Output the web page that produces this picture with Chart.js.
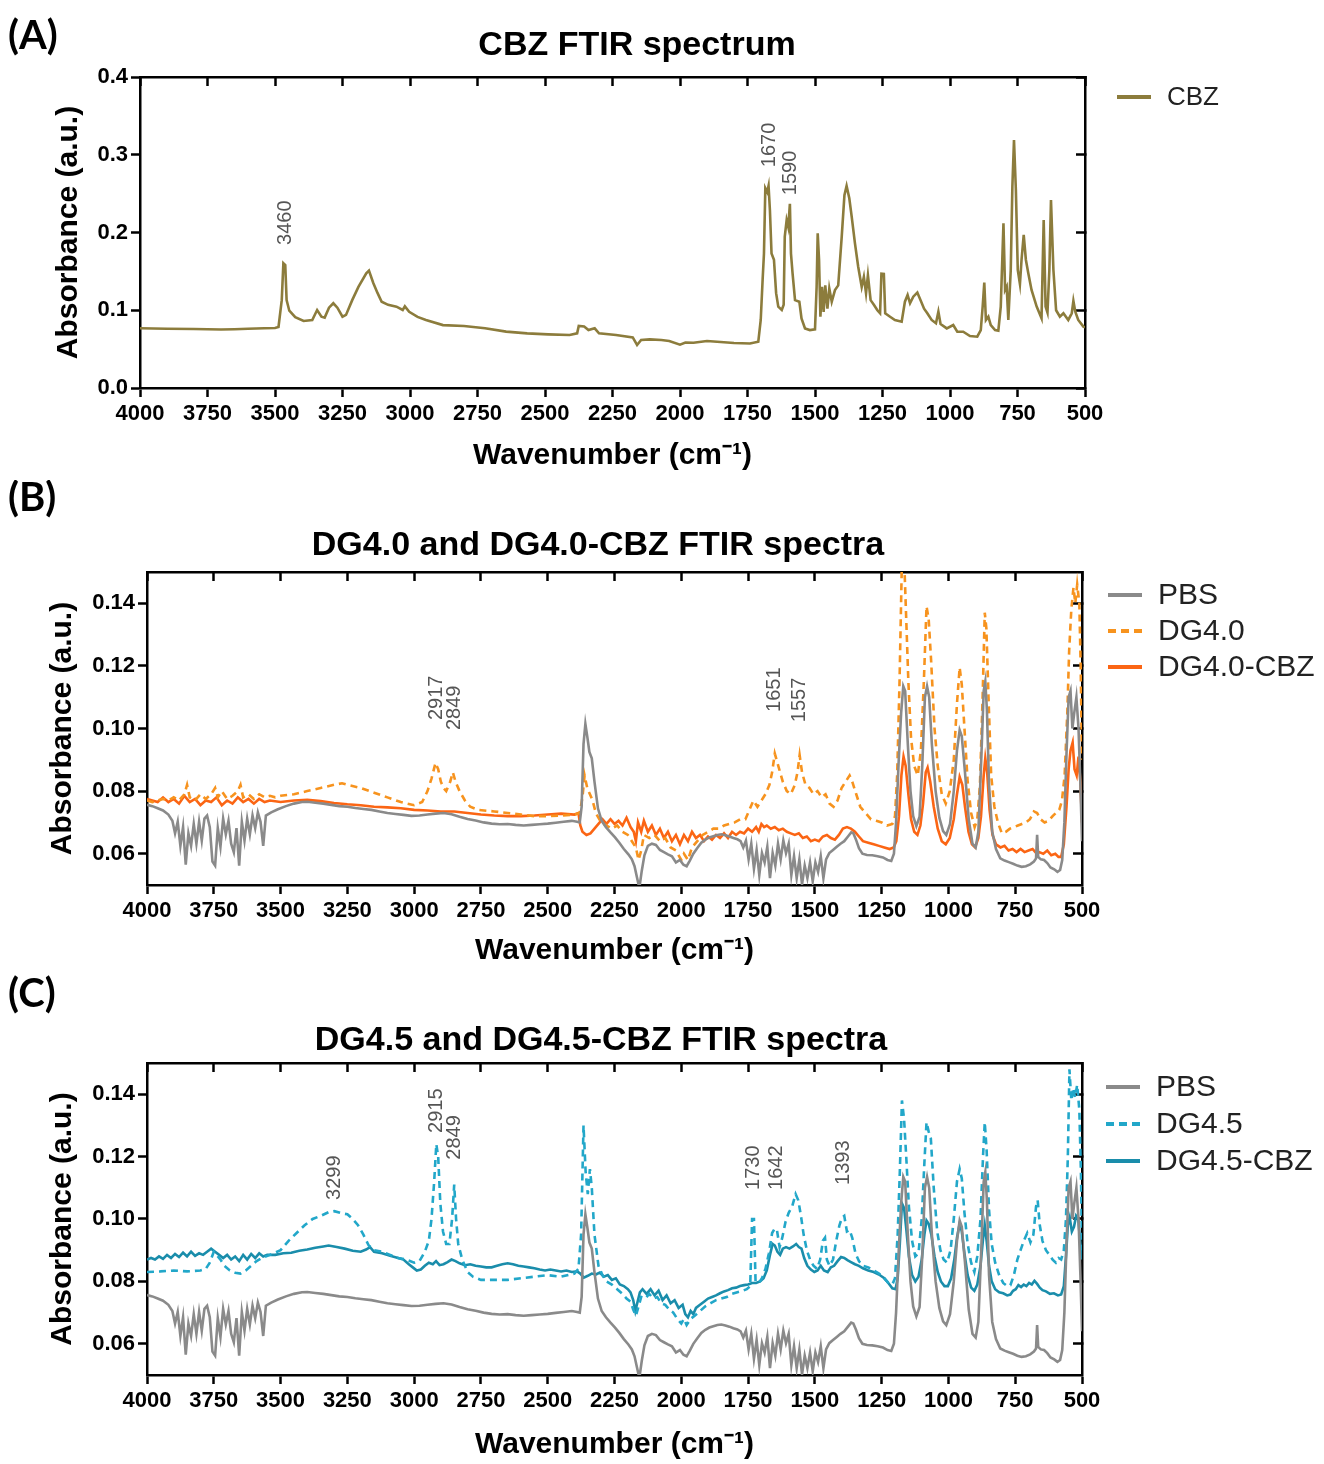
<!DOCTYPE html>
<html>
<head>
<meta charset="utf-8">
<title>FTIR spectra</title>
<script src="https://cdn.jsdelivr.net/npm/chart.js@4.4.1/dist/chart.umd.min.js"></script>
<style>
  body { margin: 0; background: #fff; }
  .panel { position: absolute; left: 0; width: 1324px; }
</style>
</head>
<body>
<div class="panel" style="top:0;height:480px"><canvas id="chartA"></canvas></div>
<div class="panel" style="top:480px;height:490px"><canvas id="chartB"></canvas></div>
<div class="panel" style="top:970px;height:494px"><canvas id="chartC"></canvas></div>
<script>
// axis ticks
const waveTicks = [4000, 3750, 3500, 3250, 3000, 2750, 2500, 2250, 2000, 1750, 1500, 1250, 1000, 750, 500];
const absTicksA = [0, 0.1, 0.2, 0.3, 0.4];
const absTicksBC = [0.06, 0.08, 0.10, 0.12, 0.14];

// peak labels (wavenumber, absorbance where the label starts)
const cbzPeaks = [3460, 1670, 1590];
const cbzPeakLevels = [0.184, 0.284, 0.248];
const dg40Peaks = [2917, 2849, 1651, 1557];
const dg40PeakLevels = [0.1027, 0.0995, 0.1053, 0.102];
const dg45Peaks = [3299, 2915, 2849, 1730, 1642, 1393];
const dg45PeakLevels = [0.1061, 0.1276, 0.119, 0.1093, 0.1093, 0.1109];

// spectra: [wavenumber, absorbance]
const cbzPoints = [
  [4000,0.0768],[3900,0.0762],[3800,0.0758],[3700,0.0752],[3650,0.0756],[3600,0.0762],[3540,0.0768],[3500,0.0772],
  [3487,0.0785],[3475,0.113],[3469,0.1604],[3462,0.158],[3457,0.113],[3447,0.0994],[3425,0.091],[3394,0.0862],
  [3362,0.0875],[3344,0.1003],[3328,0.0917],[3316,0.0905],[3300,0.1033],[3284,0.109],[3269,0.1033],[3250,0.0917],
  [3237,0.094],[3214,0.113],[3191,0.130],[3162,0.1475],[3152,0.151],[3136,0.135],[3120,0.122],[3105,0.111],
  [3081,0.107],[3050,0.1046],[3027,0.1003],[3019,0.105],[3003,0.098],[2972,0.0915],[2941,0.0875],[2878,0.0809],
  [2800,0.0797],[2722,0.0768],[2644,0.0725],[2566,0.0703],[2488,0.069],[2409,0.0682],[2381,0.0703],[2375,0.0797],
  [2355,0.079],[2339,0.0746],[2316,0.0768],[2300,0.0703],[2237,0.0682],[2175,0.0651],[2159,0.0553],[2144,0.0618],
  [2112,0.0626],[2069,0.0618],[2040,0.0605],[2000,0.0558],[1980,0.0585],[1950,0.0582],[1900,0.0605],[1850,0.0592],
  [1800,0.0578],[1741,0.0572],[1710,0.0596],[1701,0.0875],[1694,0.139],[1689,0.173],[1684,0.257],[1677,0.252],
  [1672,0.260],[1667,0.229],[1661,0.173],[1652,0.165],[1644,0.122],[1636,0.1047],[1623,0.1003],[1616,0.107],
  [1612,0.1947],[1605,0.216],[1599,0.207],[1593,0.237],[1589,0.173],[1583,0.147],[1574,0.113],[1558,0.111],
  [1550,0.0896],[1537,0.0767],[1519,0.0745],[1500,0.0754],[1494,0.130],[1490,0.199],[1485,0.165],[1480,0.0917],
  [1474,0.130],[1468,0.098],[1462,0.132],[1454,0.102],[1447,0.128],[1438,0.111],[1426,0.126],[1414,0.132],
  [1401,0.1947],[1391,0.248],[1383,0.260],[1373,0.244],[1364,0.220],[1352,0.186],[1340,0.156],[1327,0.130],
  [1319,0.143],[1311,0.122],[1304,0.145],[1294,0.113],[1282,0.107],[1269,0.100],[1259,0.0961],[1254,0.147],
  [1245,0.1466],[1240,0.0961],[1222,0.0917],[1204,0.0875],[1179,0.0853],[1167,0.111],[1157,0.1197],[1148,0.109],
  [1136,0.1175],[1121,0.1227],[1109,0.113],[1096,0.102],[1084,0.0961],[1068,0.0875],[1052,0.0832],[1043,0.0982],
  [1035,0.0824],[1012,0.0767],[988,0.081],[973,0.0724],[951,0.0724],[926,0.0668],[899,0.066],[886,0.0745],
  [879,0.1047],[873,0.1355],[867,0.0875],[858,0.0917],[849,0.081],[833,0.0745],[821,0.0737],[812,0.1047],
  [802,0.2118],[796,0.1261],[790,0.1304],[784,0.0875],[775,0.1518],[769,0.2589],[763,0.319],[756,0.2547],
  [749,0.1518],[741,0.1337],[735,0.165],[727,0.1968],[719,0.165],[710,0.1475],[698,0.1261],[679,0.1047],
  [661,0.0896],[653,0.216],[646,0.1047],[639,0.097],[632,0.1518],[626,0.2418],[617,0.1518],[607,0.100],
  [593,0.0917],[580,0.0961],[562,0.0875],[549,0.0961],[543,0.112],[536,0.0982],[525,0.0875],[506,0.0789],[500,0.078]
];

const pbsPoints = [
  [4000,0.0756],[3980,0.0752],[3960,0.0745],[3940,0.0738],[3920,0.0725],[3905,0.0705],[3895,0.0665],[3885,0.0702],
  [3875,0.0625],[3865,0.0685],[3855,0.0565],[3845,0.0665],[3835,0.0625],[3825,0.0695],[3815,0.0632],[3805,0.0702],
  [3795,0.0642],[3785,0.0712],[3775,0.0722],[3765,0.0685],[3755,0.0575],[3745,0.0562],[3735,0.0682],[3725,0.0622],
  [3715,0.0712],[3705,0.0662],[3695,0.0705],[3685,0.0632],[3675,0.0605],[3665,0.0682],[3655,0.0562],[3645,0.0702],
  [3635,0.0642],[3625,0.0712],[3615,0.0662],[3605,0.0722],[3595,0.0682],[3585,0.0732],[3575,0.0702],[3565,0.0625],
  [3555,0.0722],[3535,0.0732],[3510,0.0742],[3480,0.0752],[3450,0.0760],[3420,0.0765],[3400,0.0766],[3370,0.0763],
  [3340,0.0760],[3310,0.0756],[3280,0.0752],[3250,0.0750],[3220,0.0746],[3190,0.0743],[3160,0.0740],[3130,0.0735],
  [3100,0.0730],[3070,0.0727],[3040,0.0724],[3010,0.0721],[2980,0.0722],[2950,0.0725],[2920,0.0728],[2890,0.0730],
  [2860,0.0726],[2830,0.0718],[2800,0.0711],[2770,0.0706],[2740,0.0700],[2710,0.0696],[2680,0.0694],[2650,0.0695],
  [2620,0.0692],[2590,0.0690],[2560,0.0692],[2530,0.0694],[2500,0.0696],[2470,0.0699],[2440,0.0702],[2410,0.0705],
  [2390,0.0702],[2380,0.0700],[2373,0.0750],[2366,0.0950],[2359,0.1015],[2352,0.0975],[2344,0.0925],[2335,0.0905],
  [2325,0.0830],[2312,0.0745],[2298,0.0705],[2282,0.0685],[2265,0.0668],[2248,0.0652],[2232,0.0635],[2215,0.0615],
  [2198,0.0598],[2185,0.0582],[2175,0.0560],[2166,0.0525],[2157,0.0490],[2148,0.0545],[2138,0.0595],[2125,0.0625],
  [2110,0.0632],[2095,0.0628],[2080,0.0612],[2065,0.0605],[2050,0.0598],[2035,0.0592],[2020,0.0572],[2005,0.0580],
  [1992,0.0565],[1980,0.0560],[1968,0.0578],[1955,0.0600],[1940,0.0618],[1925,0.0635],[1910,0.0645],[1895,0.0652],
  [1880,0.0656],[1865,0.0660],[1850,0.0662],[1835,0.0659],[1820,0.0655],[1805,0.0650],[1790,0.0646],[1778,0.0640],
  [1768,0.0620],[1758,0.0642],[1748,0.0582],[1738,0.0632],[1728,0.0552],[1718,0.0612],[1708,0.0532],[1698,0.0602],
  [1688,0.0572],[1678,0.0622],[1668,0.0522],[1658,0.0602],[1648,0.0562],[1638,0.0632],[1628,0.0582],[1618,0.0642],
  [1608,0.0602],[1598,0.0632],[1588,0.0532],[1578,0.0592],[1568,0.0522],[1558,0.0582],[1548,0.0502],[1538,0.0562],
  [1528,0.0522],[1518,0.0572],[1508,0.0512],[1498,0.0572],[1488,0.0542],[1478,0.0592],[1468,0.0522],[1458,0.0582],
  [1446,0.0602],[1432,0.0612],[1418,0.0622],[1404,0.0632],[1390,0.0640],[1376,0.0655],[1364,0.0668],[1356,0.0665],
  [1346,0.0645],[1335,0.0618],[1322,0.0600],[1305,0.0596],[1285,0.0595],[1265,0.0592],[1245,0.0588],[1228,0.0580],
  [1214,0.0577],[1204,0.0600],[1196,0.0700],[1186,0.0900],[1177,0.1050],[1169,0.1135],[1162,0.1120],[1152,0.0950],
  [1142,0.0800],[1132,0.0720],[1120,0.0688],[1108,0.0718],[1098,0.0880],[1088,0.1100],[1080,0.1135],[1072,0.1100],
  [1062,0.0950],[1048,0.0800],[1034,0.0715],[1020,0.0672],[1008,0.0660],[994,0.0695],[980,0.0800],[968,0.0930],
  [958,0.0995],[950,0.0975],[938,0.0860],[924,0.0710],[910,0.0632],[898,0.0620],[888,0.0670],[878,0.0880],
  [868,0.1120],[862,0.1150],[856,0.1060],[848,0.0820],[836,0.0670],[822,0.0615],[806,0.0585],[790,0.0578],
  [774,0.0573],[758,0.0568],[742,0.0562],[726,0.0558],[710,0.0560],[694,0.0566],[680,0.0575],[672,0.0585],
  [668,0.0660],[664,0.0590],[654,0.0582],[642,0.0580],[630,0.0570],[618,0.0556],[604,0.0550],[592,0.0542],
  [582,0.0548],[574,0.0580],[566,0.0700],[558,0.0920],[550,0.1100],[543,0.1120],[536,0.1000],[529,0.1050],
  [521,0.1100],[513,0.1000],[506,0.0820],[500,0.0640]
];

const dg40Points = [
  [4000,0.077],[3980,0.0765],[3960,0.077],[3940,0.0775],[3920,0.077],[3900,0.078],[3880,0.077],[3860,0.079],
  [3850,0.082],[3840,0.078],[3820,0.077],[3800,0.079],[3780,0.0775],[3760,0.079],[3745,0.081],[3735,0.078],
  [3720,0.080],[3700,0.0775],[3680,0.0785],[3660,0.080],[3650,0.082],[3640,0.078],[3620,0.079],[3600,0.0775],
  [3580,0.079],[3560,0.078],[3540,0.0785],[3520,0.078],[3500,0.0785],[3450,0.079],[3400,0.080],[3350,0.081],
  [3300,0.082],[3270,0.0825],[3250,0.082],[3200,0.081],[3150,0.0795],[3100,0.078],[3050,0.0765],[3000,0.0755],
  [2970,0.0765],[2950,0.080],[2935,0.084],[2920,0.089],[2910,0.087],[2900,0.083],[2890,0.081],[2880,0.080],
  [2865,0.083],[2855,0.086],[2845,0.083],[2830,0.080],[2810,0.077],[2790,0.075],[2760,0.074],[2700,0.0735],
  [2650,0.073],[2600,0.0725],[2550,0.072],[2500,0.072],[2450,0.0722],[2400,0.0725],[2380,0.073],[2370,0.078],
  [2362,0.085],[2352,0.081],[2342,0.079],[2332,0.077],[2320,0.073],[2300,0.070],[2280,0.069],[2260,0.068],
  [2240,0.069],[2220,0.067],[2200,0.066],[2185,0.064],[2170,0.062],[2160,0.058],[2150,0.061],[2140,0.066],
  [2120,0.065],[2100,0.066],[2080,0.064],[2060,0.065],[2040,0.062],[2020,0.061],[2000,0.058],[1990,0.060],
  [1975,0.058],[1960,0.062],[1940,0.064],[1920,0.066],[1900,0.067],[1880,0.068],[1860,0.068],[1840,0.069],
  [1820,0.0695],[1800,0.070],[1780,0.071],[1760,0.071],[1745,0.074],[1730,0.077],[1715,0.075],[1700,0.077],
  [1685,0.079],[1670,0.082],[1660,0.086],[1650,0.092],[1640,0.089],[1630,0.086],[1620,0.083],[1605,0.080],
  [1590,0.079],[1575,0.082],[1565,0.086],[1557,0.0915],[1548,0.086],[1535,0.082],[1520,0.081],[1505,0.079],
  [1490,0.080],[1475,0.078],[1460,0.079],[1445,0.076],[1430,0.075],[1415,0.077],[1400,0.081],[1385,0.083],
  [1370,0.085],[1360,0.083],[1345,0.079],[1330,0.075],[1310,0.073],[1290,0.071],[1270,0.0705],[1250,0.070],
  [1230,0.069],[1210,0.0695],[1200,0.072],[1192,0.085],[1183,0.115],[1175,0.150],[1168,0.160],[1160,0.140],
  [1150,0.115],[1140,0.097],[1128,0.088],[1115,0.085],[1103,0.093],[1092,0.115],[1082,0.139],[1074,0.135],
  [1065,0.122],[1052,0.100],[1040,0.088],[1025,0.079],[1010,0.076],[995,0.080],[980,0.090],[968,0.108],
  [958,0.1195],[950,0.114],[940,0.100],[928,0.083],[915,0.073],[902,0.0685],[892,0.071],[882,0.082],
  [872,0.110],[864,0.137],[858,0.132],[850,0.110],[840,0.085],[828,0.075],[815,0.070],[800,0.0665],
  [785,0.067],[770,0.068],[755,0.0685],[740,0.069],[725,0.0695],[710,0.070],[695,0.071],[680,0.0735],
  [668,0.073],[655,0.071],[640,0.070],[625,0.0705],[610,0.072],[598,0.073],[585,0.074],[575,0.077],
  [565,0.085],[555,0.105],[548,0.125],[540,0.138],[532,0.145],[525,0.140],[518,0.146],[510,0.140],[505,0.120],[500,0.090]
];

const dg40CbzPoints = [
  [4000,0.0775],[3980,0.077],[3960,0.0765],[3940,0.078],[3920,0.0765],[3900,0.0775],[3880,0.076],[3860,0.0785],
  [3840,0.0765],[3820,0.0775],[3800,0.0755],[3780,0.077],[3760,0.0765],[3740,0.078],[3720,0.0755],[3700,0.077],
  [3680,0.076],[3660,0.078],[3640,0.0765],[3620,0.0775],[3600,0.076],[3580,0.0775],[3560,0.0765],[3540,0.077],
  [3500,0.0765],[3450,0.077],[3400,0.0772],[3350,0.0768],[3300,0.0762],[3250,0.0758],[3200,0.0755],[3150,0.075],
  [3100,0.0748],[3050,0.0745],[3000,0.074],[2950,0.0738],[2900,0.0735],[2850,0.0735],[2800,0.073],[2750,0.0725],
  [2700,0.0722],[2650,0.072],[2600,0.072],[2550,0.0722],[2500,0.0725],[2450,0.0728],[2400,0.0725],[2385,0.073],
  [2378,0.069],[2370,0.067],[2355,0.066],[2340,0.0665],[2325,0.068],[2310,0.0695],[2295,0.071],[2280,0.0695],
  [2265,0.071],[2250,0.0695],[2235,0.0705],[2220,0.069],[2205,0.0715],[2190,0.0685],[2178,0.067],[2170,0.064],
  [2162,0.070],[2150,0.067],[2140,0.0705],[2125,0.067],[2110,0.069],[2095,0.066],[2080,0.068],[2065,0.065],
  [2050,0.067],[2035,0.064],[2020,0.066],[2005,0.063],[1990,0.066],[1975,0.064],[1960,0.067],[1945,0.065],
  [1930,0.066],[1915,0.064],[1900,0.0655],[1885,0.0645],[1870,0.066],[1855,0.065],[1840,0.0665],[1825,0.065],
  [1810,0.067],[1795,0.066],[1780,0.067],[1765,0.0665],[1750,0.068],[1735,0.067],[1720,0.0685],[1710,0.067],
  [1700,0.0695],[1690,0.0685],[1680,0.069],[1665,0.068],[1650,0.0685],[1635,0.0675],[1620,0.068],[1605,0.067],
  [1590,0.0665],[1575,0.066],[1560,0.0665],[1545,0.065],[1530,0.0655],[1515,0.064],[1500,0.0645],[1485,0.064],
  [1470,0.0655],[1455,0.066],[1440,0.065],[1425,0.0645],[1410,0.066],[1395,0.068],[1380,0.0685],[1365,0.068],
  [1350,0.067],[1335,0.0655],[1320,0.064],[1300,0.0635],[1280,0.063],[1260,0.0625],[1240,0.062],[1220,0.0615],
  [1205,0.062],[1195,0.064],[1185,0.072],[1176,0.085],[1168,0.091],[1160,0.088],[1150,0.079],[1140,0.071],
  [1128,0.067],[1116,0.066],[1105,0.069],[1095,0.076],[1085,0.086],[1078,0.0875],[1068,0.083],[1055,0.075],
  [1040,0.068],[1025,0.064],[1010,0.063],[995,0.065],[980,0.071],[968,0.079],[958,0.0845],[948,0.082],
  [938,0.075],[925,0.067],[912,0.063],[900,0.062],[888,0.065],[878,0.072],[868,0.085],[862,0.0905],
  [855,0.086],[846,0.074],[835,0.066],[822,0.063],[805,0.062],[790,0.0625],[775,0.061],[760,0.0615],
  [745,0.0605],[730,0.0615],[715,0.0605],[700,0.061],[685,0.0615],[670,0.060],[660,0.0605],[645,0.060],
  [630,0.061],[615,0.0595],[600,0.060],[588,0.059],[578,0.059],[568,0.063],[558,0.075],[550,0.087],
  [543,0.093],[535,0.0955],[528,0.087],[520,0.085],[513,0.091],[506,0.083],[500,0.070]
];

const dg45Points = [
  [4000,0.083],[3950,0.0832],[3900,0.0835],[3850,0.0832],[3800,0.0835],[3780,0.084],[3765,0.086],[3750,0.0895],
  [3740,0.0885],[3725,0.087],[3710,0.085],[3690,0.0835],[3670,0.0828],[3650,0.0825],[3630,0.0835],[3610,0.085],
  [3590,0.0865],[3570,0.0875],[3540,0.0885],[3500,0.090],[3470,0.093],[3440,0.0955],[3410,0.098],[3380,0.100],
  [3350,0.101],[3320,0.1022],[3299,0.1025],[3270,0.1018],[3250,0.1015],[3230,0.100],[3210,0.098],[3190,0.095],
  [3170,0.0915],[3150,0.090],[3120,0.0895],[3090,0.0885],[3060,0.0875],[3030,0.087],[3000,0.086],[2980,0.0865],
  [2960,0.0895],[2945,0.093],[2935,0.100],[2925,0.112],[2917,0.124],[2910,0.120],[2902,0.105],[2892,0.096],
  [2880,0.092],[2868,0.092],[2858,0.100],[2850,0.111],[2843,0.100],[2835,0.092],[2820,0.087],[2800,0.083],
  [2780,0.0815],[2750,0.0805],[2700,0.0805],[2650,0.0805],[2600,0.081],[2550,0.0815],[2500,0.082],[2450,0.0815],
  [2400,0.0825],[2385,0.084],[2375,0.095],[2366,0.130],[2358,0.115],[2350,0.108],[2342,0.116],[2335,0.110],
  [2325,0.095],[2310,0.085],[2295,0.082],[2280,0.080],[2260,0.079],[2240,0.0775],[2220,0.076],[2205,0.0745],
  [2190,0.0735],[2180,0.071],[2170,0.069],[2160,0.072],[2150,0.075],[2135,0.0745],[2120,0.076],[2105,0.0745],
  [2090,0.075],[2075,0.073],[2060,0.0725],[2045,0.071],[2030,0.070],[2015,0.068],[2000,0.0665],[1990,0.068],
  [1980,0.066],[1965,0.068],[1950,0.069],[1930,0.0705],[1910,0.072],[1890,0.073],[1870,0.074],[1850,0.0745],
  [1830,0.075],[1810,0.076],[1790,0.0765],[1770,0.077],[1755,0.0775],[1742,0.0785],[1735,0.100],[1728,0.100],
  [1722,0.080],[1710,0.0795],[1698,0.081],[1685,0.084],[1672,0.089],[1660,0.0955],[1650,0.097],[1642,0.0965],
  [1632,0.091],[1622,0.094],[1610,0.099],[1598,0.102],[1585,0.104],[1572,0.108],[1562,0.106],[1552,0.101],
  [1542,0.095],[1530,0.090],[1518,0.087],[1505,0.085],[1492,0.084],[1480,0.087],[1470,0.093],[1462,0.094],
  [1455,0.087],[1445,0.085],[1432,0.087],[1420,0.093],[1408,0.098],[1398,0.1005],[1390,0.101],[1380,0.096],
  [1370,0.0965],[1360,0.094],[1348,0.089],[1335,0.0865],[1320,0.085],[1300,0.0845],[1280,0.0835],[1260,0.0825],
  [1240,0.081],[1225,0.0795],[1210,0.079],[1200,0.081],[1190,0.095],[1182,0.115],[1174,0.138],[1166,0.132],
  [1158,0.120],[1148,0.104],[1136,0.093],[1124,0.088],[1112,0.089],[1100,0.100],[1090,0.118],[1082,0.131],
  [1074,0.128],[1066,0.126],[1055,0.110],[1042,0.096],[1030,0.090],[1018,0.087],[1005,0.086],[992,0.090],
  [980,0.100],[968,0.112],[958,0.116],[950,0.113],[940,0.102],[928,0.092],[915,0.086],[903,0.083],
  [892,0.088],[880,0.100],[870,0.121],[864,0.131],[857,0.122],[848,0.103],[838,0.092],[825,0.086],
  [810,0.082],[795,0.0795],[780,0.0785],[768,0.0788],[755,0.082],[742,0.087],[730,0.090],[718,0.093],
  [705,0.0955],[693,0.0925],[682,0.095],[672,0.104],[666,0.106],[658,0.098],[648,0.093],[635,0.090],
  [622,0.0885],[610,0.087],[598,0.086],[588,0.0875],[578,0.087],[568,0.090],[560,0.100],[553,0.120],
  [547,0.148],[540,0.138],[533,0.142],[526,0.139],[518,0.143],[510,0.135],[504,0.115],[500,0.090]
];

const dg45CbzPoints = [
  [4000,0.087],[3985,0.0875],[3970,0.087],[3955,0.088],[3940,0.0872],[3925,0.0885],[3910,0.0875],[3895,0.0888],
  [3880,0.0878],[3865,0.0892],[3850,0.088],[3835,0.0895],[3820,0.0882],[3805,0.089],[3790,0.0885],[3775,0.0895],
  [3760,0.0905],[3745,0.0895],[3730,0.0885],[3715,0.0875],[3700,0.0885],[3685,0.087],[3670,0.088],[3655,0.0865],
  [3640,0.0885],[3625,0.087],[3610,0.0888],[3595,0.0875],[3580,0.089],[3565,0.088],[3550,0.0885],[3520,0.0885],
  [3490,0.089],[3460,0.0892],[3430,0.0898],[3400,0.0902],[3370,0.0908],[3340,0.0912],[3320,0.0915],[3290,0.091],
  [3260,0.0905],[3230,0.0898],[3200,0.0895],[3180,0.0902],[3165,0.091],[3150,0.0895],[3120,0.089],[3090,0.0882],
  [3060,0.0875],[3040,0.087],[3020,0.0855],[3005,0.0845],[2990,0.0835],[2975,0.0838],[2960,0.085],[2945,0.086],
  [2930,0.0855],[2918,0.0865],[2905,0.0852],[2890,0.0855],[2875,0.0862],[2860,0.087],[2845,0.0865],[2830,0.0858],
  [2810,0.0852],[2790,0.0855],[2770,0.085],[2750,0.0848],[2730,0.0845],[2710,0.0845],[2690,0.085],[2670,0.0855],
  [2650,0.0858],[2630,0.0855],[2610,0.085],[2590,0.0848],[2570,0.0845],[2550,0.0842],[2530,0.0838],[2510,0.0835],
  [2490,0.0838],[2470,0.0835],[2450,0.0832],[2430,0.0835],[2410,0.083],[2390,0.0832],[2378,0.0825],[2365,0.0812],
  [2350,0.0818],[2335,0.0825],[2320,0.0822],[2305,0.0828],[2290,0.0815],[2275,0.082],[2260,0.0805],[2245,0.081],
  [2230,0.079],[2215,0.0785],[2200,0.0775],[2190,0.0765],[2180,0.074],[2172,0.0705],[2165,0.073],[2155,0.0765],
  [2145,0.0775],[2130,0.076],[2115,0.0775],[2100,0.0755],[2085,0.077],[2070,0.074],[2055,0.0755],[2040,0.073],
  [2025,0.074],[2010,0.0715],[1995,0.0725],[1985,0.0695],[1975,0.0685],[1965,0.0705],[1955,0.0695],[1945,0.0715],
  [1930,0.0725],[1915,0.0735],[1900,0.0745],[1885,0.075],[1870,0.0755],[1855,0.0762],[1840,0.0768],[1825,0.0772],
  [1810,0.0778],[1795,0.078],[1780,0.0785],[1765,0.0788],[1750,0.079],[1735,0.0795],[1720,0.0795],[1705,0.080],
  [1692,0.081],[1680,0.0835],[1668,0.0885],[1658,0.092],[1650,0.0915],[1640,0.0895],[1630,0.0885],[1620,0.0905],
  [1608,0.091],[1595,0.0905],[1582,0.0912],[1570,0.092],[1560,0.091],[1550,0.0905],[1540,0.0875],[1528,0.085],
  [1515,0.0838],[1502,0.083],[1490,0.0835],[1478,0.085],[1466,0.0835],[1452,0.083],[1440,0.0845],[1428,0.085],
  [1415,0.0865],[1402,0.0878],[1390,0.0875],[1378,0.0868],[1365,0.0862],[1350,0.0855],[1335,0.085],[1320,0.0842],
  [1300,0.0835],[1280,0.083],[1260,0.0822],[1240,0.081],[1225,0.0795],[1210,0.0778],[1198,0.0775],[1190,0.081],
  [1182,0.092],[1174,0.105],[1166,0.1035],[1158,0.097],[1148,0.088],[1136,0.082],[1124,0.080],[1112,0.0815],
  [1100,0.087],[1090,0.095],[1082,0.0995],[1074,0.0985],[1064,0.095],[1052,0.088],[1040,0.083],[1028,0.080],
  [1015,0.0785],[1002,0.0785],[990,0.081],[978,0.087],[968,0.094],[958,0.0985],[950,0.096],[940,0.089],
  [928,0.082],[915,0.078],[903,0.077],[892,0.079],[880,0.085],[870,0.094],[864,0.098],[857,0.093],
  [848,0.085],[838,0.080],[825,0.0775],[810,0.0765],[795,0.0762],[780,0.0755],[768,0.0758],[758,0.077],
  [748,0.0775],[738,0.0788],[728,0.0782],[718,0.079],[708,0.0785],[698,0.0795],[688,0.079],[678,0.0802],
  [668,0.0792],[658,0.078],[648,0.0772],[635,0.0768],[620,0.076],[605,0.0762],[590,0.0755],[578,0.0758],
  [568,0.0785],[560,0.088],[553,0.098],[546,0.1005],[538,0.096],[530,0.0975],[522,0.101],[514,0.100],[507,0.093],[500,0.087]
];

const sansFamily = "'Liberation Sans', Arial, sans-serif";
const tickFont = { family: sansFamily, size: 22, weight: 'bold' };
const axisTitleFont = { family: sansFamily, size: 30, weight: 'bold' };

const toXY = pts => pts.map(([x, y]) => ({ x, y }));

const line = (label, pts, color, dashed) => ({
  label,
  data: toXY(pts),
  borderColor: color,
  backgroundColor: color,
  borderWidth: 2.6,
  borderDash: dashed ? [7, 5] : [],
  pointRadius: 0,
  tension: 0,
  fill: false,
  xAxisID: 'x',
  yAxisID: 'y'
});

// labels, title, legend drawn on top of the chart
const panelDecor = {
  id: 'panelDecor',
  afterDraw: (chart, args, opts) => {
    const ctx = chart.ctx;
    const xs = chart.scales.x;
    const ys = chart.scales.y;
    ctx.save();

    // peak wavenumbers, rotated
    ctx.font = "20px " + sansFamily;
    ctx.fillStyle = '#555';
    ctx.textAlign = 'left';
    ctx.textBaseline = 'middle';
    opts.peaks.forEach((wn, i) => {
      ctx.save();
      ctx.translate(xs.getPixelForValue(wn), ys.getPixelForValue(opts.peakLevels[i]));
      ctx.rotate(-Math.PI / 2);
      ctx.fillText(String(wn), 0, 0);
      ctx.restore();
    });

    // panel letter and title
    ctx.fillStyle = '#000';
    ctx.font = "bold 40px Lato, 'Open Sans', sans-serif";
    ctx.fillText(opts.letter, 8, opts.letterY);
    ctx.textAlign = 'center';
    ctx.font = "bold 34px " + sansFamily;
    ctx.fillText(opts.title, opts.titleX, opts.titleY);

    // legend
    ctx.textAlign = 'left';
    ctx.font = opts.legendSize + "px " + sansFamily;
    chart.data.datasets.forEach((ds, i) => {
      const y = opts.legendY + i * opts.legendGap;
      ctx.beginPath();
      ctx.setLineDash(ds.borderDash.length ? [8, 5] : []);
      ctx.strokeStyle = ds.borderColor;
      ctx.lineWidth = 4;
      ctx.moveTo(opts.legendX, y);
      ctx.lineTo(opts.legendX + 34, y);
      ctx.stroke();
      ctx.setLineDash([]);
      ctx.fillStyle = '#222';
      ctx.fillText(ds.label, opts.legendX + 50, y + 1);
    });
    ctx.restore();
  }
};

const frameGrid = len => ({
  drawOnChartArea: false,
  tickLength: len,
  tickWidth: 2.5,
  tickColor: '#000'
});
const frameBorder = { color: '#000', width: 2.5 };

function makeChart(id, datasets, p) {
  const setTicks = list => scale => {
    scale.ticks = list.map(v => ({ value: v }));
  };
  return new Chart(document.getElementById(id), {
    type: 'line',
    data: { datasets },
    options: {
      responsive: true,
      maintainAspectRatio: false,
      animation: false,
      events: [],
      layout: { padding: { top: p.padTop, right: p.padRight, left: 0, bottom: 0 } },
      scales: {
        x: {
          type: 'linear',
          reverse: true,
          min: 500,
          max: 4000,
          afterBuildTicks: setTicks(waveTicks),
          ticks: {
            color: '#000',
            font: tickFont,
            padding: 4,
            maxRotation: 0,
            autoSkip: false,
            callback: v => String(v)
          },
          grid: frameGrid(9),
          border: frameBorder,
          title: {
            display: true,
            text: 'Wavenumber (cm\u207B\u00B9)',
            color: '#000',
            font: axisTitleFont,
            padding: { top: 0, bottom: p.xTitlePad }
          },
          afterFit: scale => { scale.height = p.xAxisHeight; }
        },
        x2: {
          type: 'linear',
          position: 'top',
          reverse: true,
          min: 500,
          max: 4000,
          afterBuildTicks: setTicks(waveTicks),
          ticks: { display: false },
          grid: frameGrid(-9),
          border: frameBorder,
          afterFit: scale => { scale.height = 0; }
        },
        y: {
          type: 'linear',
          min: p.yMin,
          max: p.yMax,
          afterBuildTicks: setTicks(p.yTicks),
          ticks: {
            color: '#000',
            font: tickFont,
            padding: 3,
            callback: v => v.toFixed(p.decimals)
          },
          grid: frameGrid(9),
          border: frameBorder,
          title: {
            display: true,
            text: 'Absorbance (a.u.)',
            color: '#000',
            font: axisTitleFont,
            padding: { top: p.yTitlePad, bottom: 0 }
          },
          afterFit: scale => { scale.width = p.yAxisWidth; }
        },
        y2: {
          type: 'linear',
          position: 'right',
          min: p.yMin,
          max: p.yMax,
          afterBuildTicks: setTicks(p.yTicks),
          ticks: { display: false },
          grid: frameGrid(-9),
          border: frameBorder,
          afterFit: scale => { scale.width = 0; }
        }
      },
      plugins: {
        legend: { display: false },
        tooltip: { enabled: false },
        panelDecor: p.decor
      }
    },
    plugins: [panelDecor]
  });
}

makeChart('chartA', [
  line('CBZ', cbzPoints, '#8c7c3c', false)
], {
  padTop: 77, padRight: 239, xAxisHeight: 92, xTitlePad: 6, yAxisWidth: 140, yTitlePad: 51,
  yMin: 0, yMax: 0.4, yTicks: absTicksA, decimals: 1,
  decor: {
    peaks: cbzPeaks, peakLevels: cbzPeakLevels, letter: '(A)', letterY: 36,
    title: 'CBZ FTIR spectrum', titleX: 637, titleY: 46,
    legendX: 1117, legendY: 97, legendGap: 36, legendSize: 26
  }
});

makeChart('chartB', [
  line('PBS', pbsPoints, '#8a8a8a', false),
  line('DG4.0', dg40Points, '#f7931e', true),
  line('DG4.0-CBZ', dg40CbzPoints, '#fb6514', false)
], {
  padTop: 92, padRight: 242, xAxisHeight: 85, xTitlePad: 1, yAxisWidth: 147, yTitlePad: 45,
  yMin: 0.05, yMax: 0.15, yTicks: absTicksBC, decimals: 2,
  decor: {
    peaks: dg40Peaks, peakLevels: dg40PeakLevels, letter: '(B)', letterY: 18,
    title: 'DG4.0 and DG4.0-CBZ FTIR spectra', titleX: 598, titleY: 66,
    legendX: 1108, legendY: 115, legendGap: 36, legendSize: 30
  }
});

makeChart('chartC', [
  line('PBS', pbsPoints, '#8a8a8a', false),
  line('DG4.5', dg45Points, '#22a7c9', true),
  line('DG4.5-CBZ', dg45CbzPoints, '#1a8dab', false)
], {
  padTop: 93, padRight: 242, xAxisHeight: 89, xTitlePad: 1, yAxisWidth: 147, yTitlePad: 45,
  yMin: 0.05, yMax: 0.15, yTicks: absTicksBC, decimals: 2,
  decor: {
    peaks: dg45Peaks, peakLevels: dg45PeakLevels, letter: '(C)', letterY: 24,
    title: 'DG4.5 and DG4.5-CBZ FTIR spectra', titleX: 601, titleY: 71,
    legendX: 1106, legendY: 117, legendGap: 37, legendSize: 30
  }
});
</script>
</body>
</html>
